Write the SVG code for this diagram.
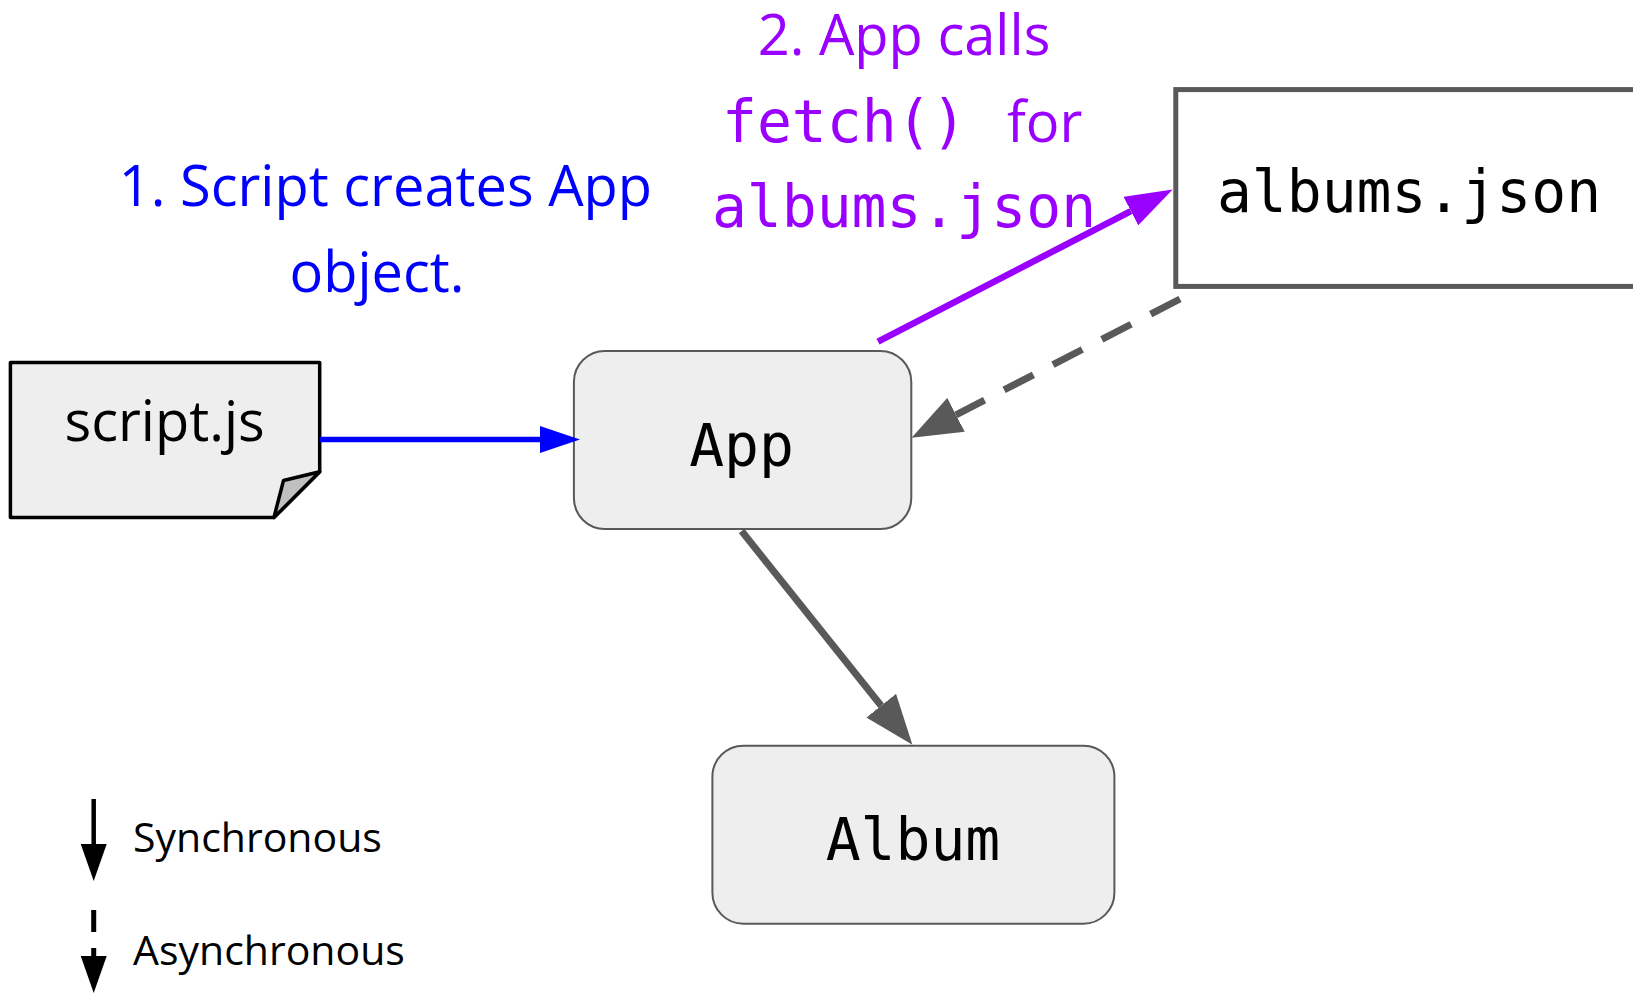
<svg xmlns="http://www.w3.org/2000/svg" width="1633" height="993" viewBox="0 0 1633 993">
<style>
.sans{font-family:"Open Sans","Liberation Sans",sans-serif;}
.mono{font-family:"DejaVu Sans Mono","Liberation Mono",monospace;}
.node-text{font-size:58px;fill:#000;text-anchor:middle;}
.rounded{fill:#eeeeee;stroke:#595959;stroke-width:2;}
.blue{fill:#0000ff;}
.purple{fill:#9900ff;}
.legend{font-size:41px;fill:#000;}
</style>
<defs>
<marker id="ah-blue" viewBox="0 0 10 10" refX="0" refY="5" markerUnits="userSpaceOnUse" markerWidth="40" markerHeight="27" orient="auto" preserveAspectRatio="none"><path d="M0,0 L10,5 L0,10 Z" fill="#0000ff"/></marker>
<marker id="ah-purple" viewBox="0 0 10 10" refX="0" refY="5" markerUnits="userSpaceOnUse" markerWidth="47" markerHeight="32" orient="auto" preserveAspectRatio="none"><path d="M0,0 L10,5 L0,10 Z" fill="#9900ff"/></marker>
<marker id="ah-gray" viewBox="0 0 10 10" refX="0" refY="5" markerUnits="userSpaceOnUse" markerWidth="50" markerHeight="38" orient="auto" preserveAspectRatio="none"><path d="M0,0 L10,5 L0,10 Z" fill="#595959"/></marker>
<marker id="ah-black" viewBox="0 0 10 10" refX="0" refY="5" markerUnits="userSpaceOnUse" markerWidth="37" markerHeight="26" orient="auto" preserveAspectRatio="none"><path d="M0,0 L10,5 L0,10 Z" fill="#000"/></marker>
</defs>
<rect width="1633" height="993" fill="#fff"/>

<g id="script-js">
<path d="M10.4,362.4 H319.7 V471.8 L273.9,517.6 H10.4 Z" fill="#eeeeee" stroke="#000" stroke-width="3.5" stroke-linejoin="round"/>
<path d="M319.7,471.8 L283.5,480.5 L273.9,517.6 Z" fill="#c0c0c0" stroke="#000" stroke-width="3.5" stroke-linejoin="round"/>
<text class="sans" x="164.6" y="440.5" font-size="56" text-anchor="middle" fill="#000">script.js</text>
</g>

<g id="app">
<rect class="rounded" x="573.9" y="351" width="337.4" height="178" rx="31" ry="31"/>
<text class="mono node-text" x="741.6" y="465.5">App</text>
</g>

<g id="albums-json">
<rect x="1175.8" y="89.6" width="480" height="196.8" fill="#fff" stroke="#595959" stroke-width="5"/>
<text class="mono node-text" x="1409" y="211.5">albums.json</text>
</g>

<g id="album">
<rect class="rounded" x="712.4" y="745.7" width="402" height="178" rx="31" ry="31"/>
<text class="mono node-text" x="913" y="860.3">Album</text>
</g>

<g id="connectors" fill="none">
<line x1="320" y1="439.5" x2="540" y2="439.5" stroke="#0000ff" stroke-width="5.5" marker-end="url(#ah-blue)"/>
<line x1="878" y1="341.6" x2="1130.9" y2="211.1" stroke="#9900ff" stroke-width="6.5" marker-end="url(#ah-purple)"/>
<line x1="1180" y1="299" x2="956" y2="414.8" stroke="#595959" stroke-width="7" stroke-dasharray="33 22" marker-end="url(#ah-gray)"/>
<line x1="741.6" y1="531" x2="881.2" y2="705.7" stroke="#595959" stroke-width="7" marker-end="url(#ah-gray)"/>
</g>

<g id="label-1">
<text class="sans blue" x="385.4" y="206" font-size="56" text-anchor="middle">1. Script creates App</text>
<text class="sans blue" x="377" y="291.6" font-size="56" text-anchor="middle">object.</text>
</g>

<g id="label-2">
<text class="sans purple" x="904" y="55" font-size="56" text-anchor="middle">2. App calls</text>
<text class="purple" y="141.6"><tspan class="mono" x="722" font-size="58">fetch()</tspan><tspan class="sans" x="1007" font-size="56">for</tspan></text>
<text class="mono purple" x="904" y="227" font-size="58" text-anchor="middle">albums.json</text>
</g>

<g id="legend">
<line x1="93.7" y1="799" x2="93.7" y2="844" stroke="#000" stroke-width="4.5" marker-end="url(#ah-black)"/>
<text class="sans legend" x="133" y="852">Synchronous</text>
<line x1="93.7" y1="910" x2="93.7" y2="956" stroke="#000" stroke-width="5" stroke-dasharray="22 16" marker-end="url(#ah-black)"/>
<text class="sans legend" x="133" y="964.5">Asynchronous</text>
</g>
</svg>
